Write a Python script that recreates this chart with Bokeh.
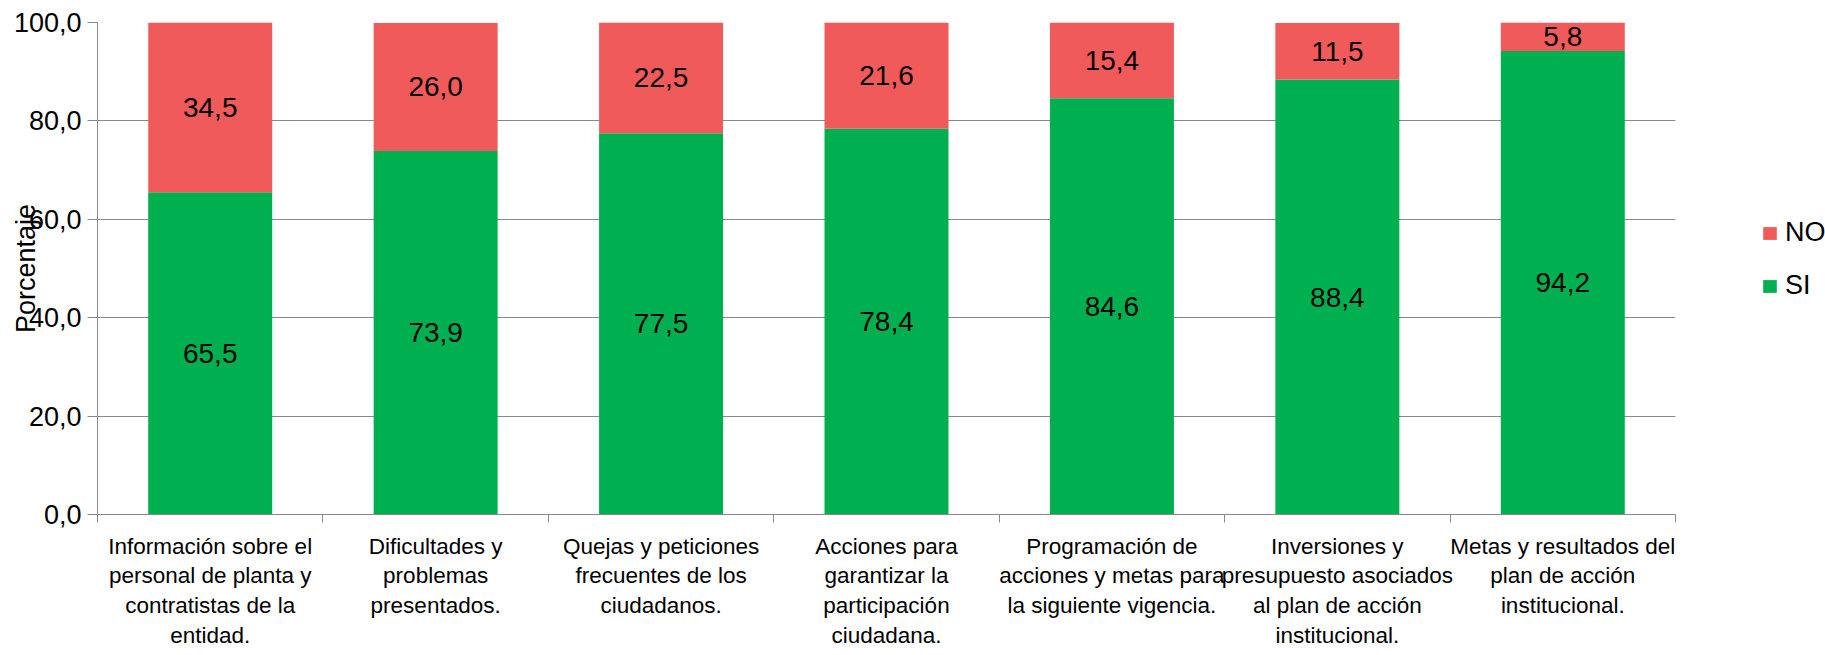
from bokeh.plotting import figure
from bokeh.models import (ColumnDataSource, Range1d, FixedTicker, Legend, LegendItem)
from bokeh.core.properties import value
from bokeh.embed import file_html
from bokeh.resources import INLINE

categories = [
    "Información sobre el\npersonal de planta y\ncontratistas de la\nentidad.",
    "Dificultades y\nproblemas\npresentados.",
    "Quejas y peticiones\nfrecuentes de los\nciudadanos.",
    "Acciones para\ngarantizar la\nparticipación\nciudadana.",
    "Programación de\nacciones y metas para\nla siguiente vigencia.",
    "Inversiones y\npresupuesto asociados\nal plan de acción\ninstitucional.",
    "Metas y resultados del\nplan de acción\ninstitucional.",
]
si = [65.5, 73.9, 77.5, 78.4, 84.6, 88.4, 94.2]
no = [34.5, 26.0, 22.5, 21.6, 15.4, 11.5, 5.8]
y_ticks = [0, 20, 40, 60, 80, 100]

def fmt(v):
    return f"{v:.1f}".replace(".", ",")

n = len(categories)
xc = [i + 0.5 for i in range(n)]
src = ColumnDataSource(dict(
    x=xc, si=si, no=no,
    no_top=[a + b for a, b in zip(si, no)],
    si_mid=[a / 2 for a in si],
    no_mid=[a + b / 2 for a, b in zip(si, no)],
    si_lbl=[fmt(v) for v in si],
    no_lbl=[fmt(v) for v in no],
))

GREEN = "#00B050"
RED = "#F05A5A"
GRID = "#898989"

p = figure(frame_width=1578, frame_height=492, output_backend="svg", toolbar_location=None,
           x_range=Range1d(0, n), y_range=Range1d(0, 100),
           min_border_left=97, min_border_right=141, min_border_top=22, min_border_bottom=128)
p.outline_line_color = None
p.background_fill_color = "white"

r_si = p.vbar(x="x", width=0.55, bottom=0, top="si", source=src, fill_color=GREEN, line_color=None)
r_no = p.vbar(x="x", width=0.55, bottom="si", top="no_top", source=src, fill_color=RED, line_color=None)

for ycol, tcol in (("si_mid", "si_lbl"), ("no_mid", "no_lbl")):
    p.text(x="x", y=ycol, text=tcol, source=src, text_align="center", text_baseline="middle",
           text_font=value("Liberation Sans"), text_font_size="28px", text_color="black")

# y axis
yax = p.yaxis[0]
yax.ticker = FixedTicker(ticks=y_ticks, minor_ticks=[])
yax.major_label_overrides = {t: fmt(t) for t in y_ticks}
yax.major_label_text_font = "Liberation Sans"
yax.major_label_text_font_size = "27px"
yax.major_label_text_color = "black"
yax.axis_line_color = GRID
yax.major_tick_line_color = GRID
yax.major_tick_out = 10
yax.major_tick_in = 0
yax.minor_tick_line_color = None
yax.major_label_standoff = 6
yax.axis_label = "Porcentaje"
yax.axis_label_text_font = "Liberation Sans"
yax.axis_label_text_font_size = "27px"
yax.axis_label_text_font_style = "normal"
yax.axis_label_text_color = "black"
yax.axis_label_standoff = -30

# x axis
xax = p.xaxis[0]
xax.ticker = FixedTicker(ticks=xc, minor_ticks=list(range(n + 1)))
xax.major_label_overrides = {x: c for x, c in zip(xc, categories)}
xax.major_label_text_font = "Liberation Sans"
xax.major_label_text_font_size = "22.5px"
xax.major_label_text_line_height = 1.19
xax.major_label_text_color = "black"
xax.axis_line_color = GRID
xax.major_tick_line_color = None
xax.major_tick_out = 0
xax.major_tick_in = 0
xax.minor_tick_line_color = GRID
xax.minor_tick_out = 8
xax.minor_tick_in = 0
xax.major_label_standoff = 11

p.xgrid.grid_line_color = None
p.ygrid.grid_line_color = GRID
p.ygrid.grid_line_width = 1

legend = Legend(items=[LegendItem(label="NO", renderers=[r_no]),
                       LegendItem(label="SI", renderers=[r_si])],
                location=(86, 213), orientation="vertical")
legend.border_line_color = None
legend.background_fill_alpha = 0
legend.padding = 0
legend.margin = 0
legend.glyph_width = 17
legend.glyph_height = 16
legend.label_height = 27
legend.spacing = 22
legend.label_standoff = 7
legend.label_text_font = "Liberation Sans"
legend.label_text_font_size = "27px"
legend.label_text_color = "black"
p.add_layout(legend, "right")

open("out.html", "w").write(file_html(p, INLINE))
